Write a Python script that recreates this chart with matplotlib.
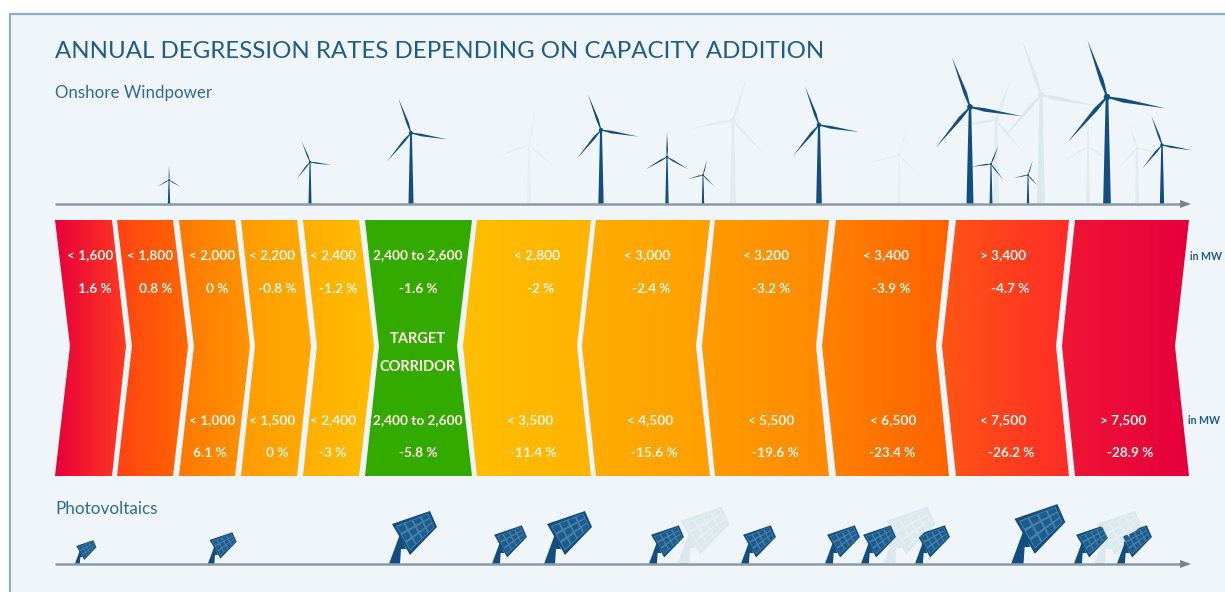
import numpy as np
import matplotlib
matplotlib.use('Agg')
import matplotlib.pyplot as plt
from matplotlib.colors import LinearSegmentedColormap
from matplotlib.patches import Polygon, Rectangle

plt.rcParams['font.family'] = ['Lato', 'DejaVu Sans']

# text of the chart
titulo = 'ANNUAL DEGRESSION RATES DEPENDING ON CAPACITY ADDITION'
wind_title = 'Onshore Windpower'
pv_title = 'Photovoltaics'
wind_caps = ['< 1,600', '< 1,800', '< 2,000', '< 2,200', '< 2,400', '2,400 to 2,600',
             '< 2,800', '< 3,000', '< 3,200', '< 3,400', '> 3,400']
wind_rates = ['1.6 %', '0.8 %', '0 %', '-0.8 %', '-1.2 %', '-1.6 %',
              '-2 %', '-2.4 %', '-3.2 %', '-3.9 %', '-4.7 %']
pv_caps = ['< 1,000', '< 1,500', '< 2,400', '2,400 to 2,600', '< 3,500',
           '< 4,500', '< 5,500', '< 6,500', '< 7,500', '> 7,500']
pv_rates = ['6.1 %', '0 %', '-3 %', '-5.8 %', '-11.4 %',
            '-15.6 %', '-19.6 %', '-23.4 %', '-26.2 %', '-28.9 %']

# x of the text centres, in pixels
wind_caps_x = [90, 150, 212, 272, 333, 418, 537, 647, 766, 886, 1003]
wind_rates_x = [95, 156, 217, 277, 338, 418, 541, 651, 771, 891, 1010]
pv_caps_x = [212, 272, 333, 418, 530, 650, 771, 893, 1003, 1123]
pv_rates_x = [210, 277, 333, 418, 533, 654, 775, 892, 1011, 1130]

# bands: left top, left middle, right middle, right top, colour left, colour right
bands = [
    (55, 70, 126, 112, '#e8003c', '#ff3a1e'),
    (117, 132, 188, 173, '#ff4314', '#ff6800'),
    (179, 194, 250, 235, '#ff7800', '#ff9400'),
    (241, 255, 311, 297, '#ff9c00', '#ffaa00'),
    (303, 317, 374, 359, '#ffae00', '#ffbd00'),
    (365, 379, 457, 472, '#33aa00', '#33aa00'),
    (477, 463, 577, 591, '#ffbe00', '#ffb400'),
    (596, 582, 696, 710, '#ffae00', '#ff9f00'),
    (715, 702, 816, 829, '#ff9c00', '#ff8a00'),
    (836, 822, 936, 949, '#ff8200', '#ff6200'),
    (956, 942, 1056, 1069, '#ff5614', '#ff2c28'),
    (1075, 1062, 1175, 1189, '#f01535', '#e6003c'),
]

dark = '#124f80'
ghost = '#dbe8ee'

# turbines: x, height of the hub, blade length, angle of the first blade, colour
turbines = [
    (529, 59, 34, 80, '#e6eff3'), (733, 84, 44, 72, '#e1ecf1'), (899, 49, 30, 75, '#e6eff3'),
    (996, 84, 44, 70, '#e1ecf1'), (1041, 109, 58, 109, ghost), (1088, 57, 30, 90, '#e1ecf1'),
    (1137, 56, 26, 108, '#e1ecf1'),
    (169, 24, 14, 90, dark), (310, 42, 22, 112, dark), (411, 71, 37, 110, dark),
    (601, 74, 38, 110, dark), (667, 47, 25, 90, dark), (703, 29, 16, 75, dark),
    (819, 79, 41, 110, dark), (970, 97, 53, 110, dark), (991, 40, 20, 68, dark),
    (1028, 29, 15, 72, dark), (1107, 107, 60, 109, dark), (1162, 59, 31, 110, dark),
]

# panels: x of the post, scale, colour
panels = [
    (685, 1.08, ghost), (891, 1.08, ghost), (1101, 1.0, ghost),
    (78, 0.45, dark), (212, 0.6, dark), (396, 1.0, dark), (497, 0.73, dark),
    (551, 1.0, dark), (654, 0.73, dark), (746, 0.73, dark), (830, 0.73, dark),
    (866, 0.73, dark), (920, 0.73, dark), (1019, 1.13, dark), (1079, 0.73, dark),
    (1122, 0.73, dark),
]

top, mid, bottom = 220, 346, 476
wind_base = 204
pv_base = 564

fig = plt.figure(figsize=(12.25, 5.92), dpi=100, facecolor='white')
ax = fig.add_axes([0, 0, 1, 1])
ax.set_axis_off()

ax.add_patch(Rectangle((9.5, 13.5), 1230, 600, facecolor='#eff5f8', edgecolor='#8fb0c4', lw=1.6))


def draw_band(band):
    lt, lm, rm, rt, c1, c2 = band
    pts = [(lt, top), (rt, top), (rm, mid), (rt, bottom), (lt, bottom), (lm, mid)]
    clip = Polygon(pts, closed=True, transform=ax.transData, facecolor='none', edgecolor='none')
    ax.add_patch(clip)
    cmap = LinearSegmentedColormap.from_list('band', [c1, c2])
    x0, x1 = min(lt, lm), max(rm, rt)
    im = ax.imshow(np.linspace(0, 1, 128).reshape(1, -1), cmap=cmap, aspect='auto',
                   extent=(x0, x1, bottom, top), zorder=2)
    im.set_clip_path(clip)


def draw_turbine(x, height, blade, angle, color):
    hub_y = wind_base - height
    base_w = max(height * 0.036, 1.2)
    ax.add_patch(Polygon([(x - base_w, wind_base), (x + base_w, wind_base),
                          (x + base_w * 0.35, hub_y), (x - base_w * 0.35, hub_y)],
                         facecolor=color, edgecolor='none', zorder=3))
    w = blade * 0.04
    for k in range(3):
        a = np.radians(angle - 120 * k)
        d = np.array([np.cos(a), -np.sin(a)])
        n = np.array([d[1], -d[0]])
        hub = np.array([x, hub_y])
        pts = [hub - n * w * 0.3, hub + d * blade * 0.28 - n * w, hub + d * blade,
               hub + d * blade * 0.28 + n * w * 0.7, hub + n * w * 0.3]
        ax.add_patch(Polygon(pts, facecolor=color, edgecolor='none', zorder=3))
    ax.add_patch(plt.Circle((x, hub_y), max(blade * 0.055, 1), color=color, lw=0, zorder=3))


def draw_panel(x, s, color):
    corners = np.array([(-4, -40), (34, -53), (41, -37), (14, -9)]) * s
    corners = corners + [x, pv_base]
    post = np.array([(-7, 0), (4, 0), (5, -15), (10, -15), (4, -30)]) * s + [x, pv_base]
    ax.add_patch(Polygon(post, facecolor=color, edgecolor='none', zorder=3))
    ax.add_patch(Polygon(corners, facecolor=color, edgecolor='none', zorder=3))
    line = '#4a82a8' if color == dark else '#e6eff3'
    cell = '#1d5c8e' if color == dark else ghost

    def quad(u, v):
        a = corners[0] + (corners[1] - corners[0]) * u
        b = corners[3] + (corners[2] - corners[3]) * u
        return a + (b - a) * v

    # lighter inner area, then the cells on top of it
    ax.add_patch(Polygon([quad(0.06, 0.09), quad(0.94, 0.09), quad(0.94, 0.91), quad(0.06, 0.91)],
                         facecolor=line, edgecolor='none', zorder=4))
    gap = 0.022
    for i in range(4):
        for j in range(3):
            u0 = 0.06 + i * 0.22 + gap
            u1 = 0.06 + (i + 1) * 0.22 - gap
            v0 = 0.09 + j * 0.82 / 3 + gap * 1.5
            v1 = 0.09 + (j + 1) * 0.82 / 3 - gap * 1.5
            ax.add_patch(Polygon([quad(u0, v0), quad(u1, v0), quad(u1, v1), quad(u0, v1)],
                                 facecolor=cell, edgecolor='none', zorder=5))


for b in bands:
    draw_band(b)

for t in turbines:
    draw_turbine(*t)
for p in panels:
    draw_panel(*p)

# ground lines with arrow
for base in [wind_base, pv_base]:
    ax.plot([55, 1182], [base, base], color='#8b9ba6', lw=1.8, zorder=6, solid_capstyle='butt')
    ax.add_patch(Polygon([(1180, base - 4), (1191, base), (1180, base + 4)],
                         facecolor='#76858f', edgecolor='none', zorder=6))

# texts
blue = '#1f5c88'
ax.text(55, 52, titulo, color=blue, fontsize=17.3, va='center', ha='left')
ax.text(55, 93, wind_title, color='#2f6c96', fontsize=12.2, va='center', ha='left')
ax.text(55, 509, pv_title, color='#2f6c96', fontsize=12.3, va='center', ha='left')

white = '#fff6e8'
for txt, xp in zip(wind_caps, wind_caps_x):
    ax.text(xp, 255, txt, color=white, fontsize=9.8, ha='center', va='center', fontweight='bold', zorder=7)
for txt, xp in zip(wind_rates, wind_rates_x):
    ax.text(xp, 289, txt, color=white, fontsize=9.8, ha='center', va='center', fontweight='bold', zorder=7)
for txt, xp in zip(pv_caps, pv_caps_x):
    ax.text(xp, 420, txt, color=white, fontsize=9.8, ha='center', va='center', fontweight='bold', zorder=7)
for txt, xp in zip(pv_rates, pv_rates_x):
    ax.text(xp, 453, txt, color=white, fontsize=9.8, ha='center', va='center', fontweight='bold', zorder=7)
ax.text(418, 339, 'TARGET', color=white, fontsize=10.5, ha='center', va='center', fontweight='bold', zorder=7)
ax.text(418, 367, 'CORRIDOR', color=white, fontsize=10.5, ha='center', va='center', fontweight='bold', zorder=7)

ax.text(1190, 256, 'in MW', color=blue, fontsize=7.6, ha='left', va='center', fontweight='bold')
ax.text(1188, 421, 'in MW', color=blue, fontsize=7.6, ha='left', va='center', fontweight='bold')

ax.set_xlim(0, 1225)
ax.set_ylim(592, 0)

fig.savefig('out.png', dpi=100, facecolor='white')
